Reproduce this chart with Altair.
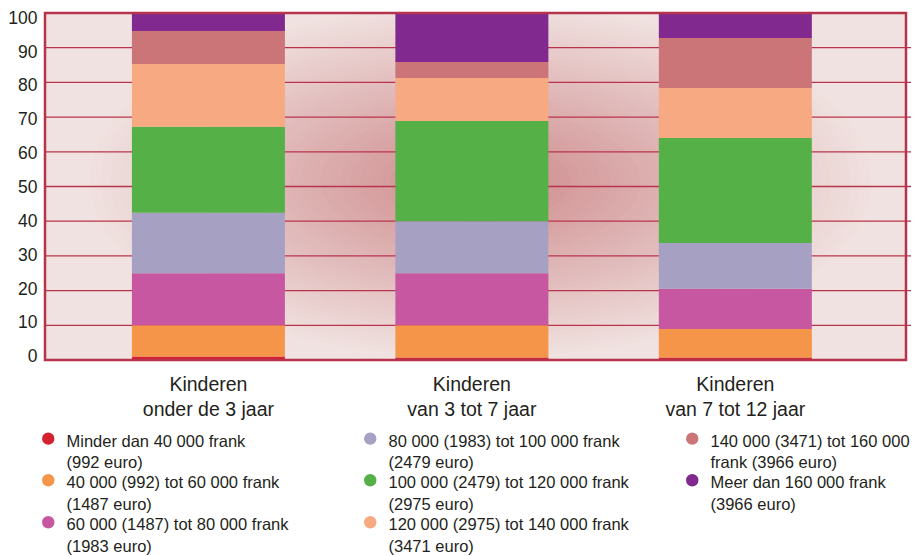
import altair as alt
import pandas as pd

# ---------------- data ----------------
age_groups = [
    "Kinderen|onder de 3 jaar",
    "Kinderen|van 3 tot 7 jaar",
    "Kinderen|van 7 tot 12 jaar",
]
income_classes = [
    "Minder dan 40 000 frank|(992 euro)",
    "40 000 (992) tot 60 000 frank|(1487 euro)",
    "60 000 (1487) tot 80 000 frank|(1983 euro)",
    "80 000 (1983) tot 100 000 frank|(2479 euro)",
    "100 000 (2479) tot 120 000 frank|(2975 euro)",
    "120 000 (2975) tot 140 000 frank|(3471 euro)",
    "140 000 (3471) tot 160 000|frank (3966 euro)",
    "Meer dan 160 000 frank|(3966 euro)",
]
class_colors = ["#d5202f", "#f4954a", "#c657a0", "#a6a0c3",
                "#56b048", "#f7aa81", "#cb7579", "#81298e"]

share_under_3 = [1.0, 9.0, 15.0, 17.4, 24.8, 18.1, 9.5, 5.2]
share_3_to_7 = [0.7, 9.3, 15.0, 15.0, 28.9, 12.4, 4.6, 14.1]
share_7_to_12 = [0.7, 8.2, 11.6, 13.2, 30.3, 14.4, 14.4, 7.2]

y_ticks = [0, 10, 20, 30, 40, 50, 60, 70, 80, 90, 100]

rows = []
for g, shares in zip(age_groups, [share_under_3, share_3_to_7, share_7_to_12]):
    for i, (c, v) in enumerate(zip(income_classes, shares)):
        rows.append({"groep": g, "klasse": c, "idx": i, "pct": v})
df = pd.DataFrame(rows)

# ---------------- style ----------------
W, H = 861, 347
FONT = "Liberation Sans, Arial, sans-serif"
TEXT = "#231f20"
EDGE = "#f0e2e0"
CENTER = "#ce898b"
GRID = "#b8344d"
FRAME = "#b5344b"
LABEL_DY = -5

# background glow: nested ellipses (decoration only)
b = 0.45
k = 0.5523
ELLIPSE = (f"M 1 0 C 1 {k*b:.4f} {k:.4f} {b} 0 {b} "
           f"C {-k:.4f} {b} -1 {k*b:.4f} -1 0 "
           f"C -1 {-k*b:.4f} {-k:.4f} {-b} 0 {-b} "
           f"C {k:.4f} {-b} 1 {-k*b:.4f} 1 0 Z")
N = 40
RX = 400
glow = alt.Chart(alt.sequence(0, N, as_="k")).transform_calculate(
    sz=f"pow({2*RX}*(1 - datum.k/{N}), 2)"
).mark_point(filled=True, shape=ELLIPSE, opacity=1, strokeWidth=0, clip=True).encode(
    x=alt.value(W / 2 + 5),
    y=alt.value(H / 2 - 5),
    size=alt.Size("sz:Q", scale=None, legend=None),
    fill=alt.Fill("k:Q", scale=alt.Scale(domain=[0, N - 1], range=[EDGE, CENTER],
                                         interpolate="rgb"), legend=None),
    order=alt.Order("k:Q"),
)

y_axis = alt.Axis(values=y_ticks, title=None, grid=False, ticks=False, domain=False,
                  labelFontSize=17.5, labelPadding=8, labelColor=TEXT, labelFont=FONT,
                  labelOffset={"condition": {"test": "false", "value": 0},
                               "expr": f"(datum.value - 38) * 0.085 + {-LABEL_DY}"})
y_scale = alt.Scale(domain=[0, 100], nice=False)

grid = alt.Chart(pd.DataFrame({"v": y_ticks[1:-1]})).mark_rule(
    color=GRID, strokeWidth=1.3
).encode(
    y=alt.Y("v:Q", scale=y_scale, axis=y_axis),
    x=alt.value(0),
    x2=alt.value(W + 10),
)

bars = alt.Chart(df).mark_bar(size=153).encode(
    x=alt.X("groep:N", sort=age_groups,
            scale=alt.Scale(paddingInner=0.42, paddingOuter=0.344, align=0.48),
            axis=alt.Axis(title=None, labelExpr="split(datum.label, '|')", labelAngle=0,
                          labelFontSize=19.5, labelLineHeight=25, labelPadding=15 - LABEL_DY,
                          ticks=False, domain=False, labelColor=TEXT, labelFont=FONT)),
    y=alt.Y("pct:Q", stack="zero", scale=y_scale, axis=y_axis),
    color=alt.Color("klasse:N",
                    scale=alt.Scale(domain=income_classes, range=class_colors),
                    legend=alt.Legend(orient="none", legendX=-5, legendY=417, columns=3,
                                      title=None, symbolType="circle", symbolSize=154,
                                      symbolStrokeWidth=0, symbolOpacity=1,
                                      labelExpr="split(datum.label, '|')",
                                      labelFontSize=16.5, labelLimit=500,
                                      labelFont=FONT, labelColor=TEXT, labelOffset=10,
                                      columnPadding=55, rowPadding=-2, padding=0,
                                      gridAlign="all", labelBaseline="top")),
    order=alt.Order("idx:Q", sort="ascending"),
)

frame = alt.Chart(pd.DataFrame({"f": [0]})).mark_rect(
    fill=None, stroke=FRAME, strokeWidth=2.5
).encode(
    x=alt.value(0), x2=alt.value(W), y=alt.value(0), y2=alt.value(H)
)

chart = alt.layer(glow, grid, bars, frame).properties(
    width=W, height=H,
    padding={"left": 37, "top": 5, "right": 5, "bottom": 195},
    autosize="none",
).configure(
    style={"guide-label": {"lineHeight": 21.5, "dy": LABEL_DY}}
).configure_view(
    fill=EDGE, stroke=None
)

chart.save("out.html", embed_options={"renderer": "svg", "actions": False})
